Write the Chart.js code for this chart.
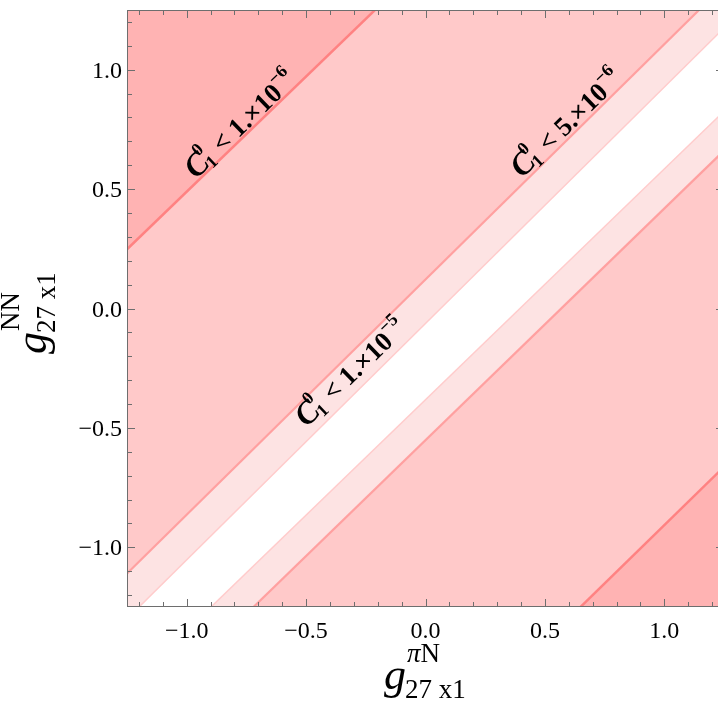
<!DOCTYPE html>
<html>
<head>
<meta charset="utf-8">
<script src="https://cdn.jsdelivr.net/npm/chart.js@4.4.1/dist/chart.umd.min.js"></script>
<style>
  html, body { margin: 0; padding: 0; background: #fff; overflow: hidden; }
  #wrap { width: 718px; height: 704px; overflow: hidden; }
  canvas { display: block; }
</style>
</head>
<body>
<div id="wrap"><canvas id="plot" width="726" height="704"></canvas></div>
<script>
// axes
const xRange = [-1.25, 1.25];
const yRange = [-1.25, 1.25];
const xTickValues = [-1.0, -0.5, 0.0, 0.5, 1.0];
const xTickLabels = ["\u22121.0", "\u22120.5", "0.0", "0.5", "1.0"];
const yTickValues = [-1.0, -0.5, 0.0, 0.5, 1.0];
const yTickLabels = ["\u22121.0", "\u22120.5", "0.0", "0.5", "1.0"];

// contour lines are straight, so each one is given by its y value
// at the left and right edge of the plot (x = edgeX)
const edgeX = [-1.25, 1.25];
const lineTopDark = [0.248, 2.66];
const lineUpperMid = [-1.11, 1.353];
const lineUpperLight = [-1.30, 1.175];
const lineLowerLight = [-1.59, 0.826];
const lineLowerMid = [-1.764, 0.661];
const lineBottomDark = [-3.105, -0.663];

// contour labels (centre in data coords)
const labelMant = ["1.\u00d710", "5.\u00d710", "1.\u00d710"];
const labelExp = ["\u22126", "\u22126", "\u22125"];
const labelX = [-0.775, 0.59, -0.312];
const labelY = [0.772, 0.776, -0.268];

const darkFill = "#ffb3b3";
const midFill = "#ffc9c9";
const lightFill = "#fde3e3";
const darkLine = "#ff8282";
const midLine = "#ffa0a0";
const lightLine = "#ffcccc";

const serif = "'Liberation Serif', 'Times New Roman', serif";

function pts(ys) {
  return edgeX.map((x, i) => ({ x: x, y: ys[i] }));
}

function contour(ys, color, width, fill, bg) {
  return {
    data: pts(ys),
    showLine: true,
    pointRadius: 0,
    borderColor: color,
    borderWidth: width,
    backgroundColor: bg || "transparent",
    fill: fill,
    clip: 0
  };
}

const frame = {
  id: "frame",
  afterDatasetsDraw(chart) {
    const ctx = chart.ctx;
    const a = chart.chartArea;
    const xs = chart.scales.x, ys = chart.scales.y;
    ctx.save();
    ctx.strokeStyle = "#6e6e6e";
    ctx.lineWidth = 1;
    ctx.strokeRect(a.left + 0.5, a.top + 0.5, a.right - a.left - 1, a.bottom - a.top - 1);
    ctx.beginPath();
    for (let k = -12; k <= 12; k++) {
      const v = k / 10;
      const major = k % 5 === 0;
      const len = major ? 8 : 5;
      const px = Math.round(xs.getPixelForValue(v)) + 0.5;
      const py = Math.round(ys.getPixelForValue(v)) + 0.5;
      ctx.moveTo(px, a.bottom); ctx.lineTo(px, a.bottom - len);
      ctx.moveTo(px, a.top); ctx.lineTo(px, a.top + len);
      ctx.moveTo(a.left, py); ctx.lineTo(a.left + len, py);
      ctx.moveTo(a.right, py); ctx.lineTo(a.right - len, py);
    }
    ctx.stroke();

    // tick labels
    ctx.fillStyle = "#000";
    ctx.font = "24px " + serif;
    ctx.textBaseline = "alphabetic";
    ctx.textAlign = "center";
    xTickValues.forEach((v, i) => {
      ctx.fillText(xTickLabels[i], xs.getPixelForValue(v), 638);
    });
    ctx.textAlign = "right";
    yTickValues.forEach((v, i) => {
      ctx.fillText(yTickLabels[i], 122, ys.getPixelForValue(v) + 8);
    });

    // contour labels
    labelX.forEach((lx, i) => {
      drawLabel(ctx, xs.getPixelForValue(lx), ys.getPixelForValue(labelY[i]), labelMant[i], labelExp[i]);
    });

    // axis titles
    drawTitle(ctx, 384, 689, "\u03c0", "N", 0);
    ctx.save();
    ctx.translate(46, 354);
    ctx.rotate(-Math.PI / 2);
    drawTitle(ctx, 0, 0, "N", "N", 1);
    ctx.restore();
    ctx.restore();
  }
};

function drawLabel(ctx, cx, cy, mant, exp) {
  const bigIt = "italic bold 32px " + serif;
  const big = "bold 27px " + serif;
  const small = "bold 18px " + serif;
  ctx.save();
  ctx.translate(cx, cy);
  ctx.rotate(-44 * Math.PI / 180);
  ctx.textAlign = "left";
  ctx.textBaseline = "alphabetic";
  ctx.font = bigIt; const wC = ctx.measureText("C").width;
  ctx.font = small; const wS = ctx.measureText("0").width;
  ctx.font = big; const body = " < " + mant; const wB = ctx.measureText(body).width;
  ctx.font = small; const wE = ctx.measureText(exp).width;
  const total = wC + wS + wB + wE;
  let x = -total / 2;
  const base = 9;
  ctx.fillStyle = "#000";
  ctx.font = bigIt; ctx.fillText("C", x, base); x += wC;
  ctx.font = small; ctx.fillText("0", x - 4, base - 15); ctx.fillText("1", x - 2, base + 4); x += wS;
  ctx.font = big; ctx.fillText(body, x, base); x += wB;
  ctx.font = small; ctx.fillText(exp, x, base - 13);
  ctx.restore();
}

function drawTitle(ctx, x, y, sup1, sup2, vertical) {
  ctx.fillStyle = "#000";
  ctx.textAlign = "left";
  ctx.textBaseline = "alphabetic";
  ctx.font = "italic 44px " + serif;
  ctx.fillText("g", x, y);
  const gw = ctx.measureText("g").width;
  ctx.font = (vertical ? "" : "italic ") + "27px " + serif;
  ctx.fillText(sup1, x + gw + 1, y - 27);
  const s1 = ctx.measureText(sup1).width;
  ctx.font = "27px " + serif;
  ctx.fillText(sup2, x + gw + 1 + s1, y - 27);
  ctx.fillText("27 x1", x + gw - 1, y + 9);
}

new Chart(document.getElementById("plot"), {
  type: "scatter",
  data: {
    datasets: [
      contour(lineTopDark, darkLine, 2.5, "end", darkFill),
      contour(lineUpperMid, midLine, 2.2, "-1", midFill),
      contour(lineUpperLight, lightLine, 1.5, "-1", lightFill),
      contour(lineLowerLight, lightLine, 1.5, false),
      contour(lineLowerMid, midLine, 2.2, "-1", lightFill),
      contour(lineBottomDark, darkLine, 2.5, "-1", midFill),
      contour(lineBottomDark, "transparent", 0, "start", darkFill)
    ]
  },
  options: {
    responsive: false,
    animation: false,
    events: [],
    layout: { padding: { left: 127, top: 10, right: 2, bottom: 97 } },
    scales: {
      x: { type: "linear", min: xRange[0], max: xRange[1], display: false },
      y: { type: "linear", min: yRange[0], max: yRange[1], display: false }
    },
    plugins: {
      legend: { display: false },
      tooltip: { enabled: false },
      filler: { drawTime: "beforeDatasetsDraw" }
    }
  },
  plugins: [frame]
});
</script>
</body>
</html>
